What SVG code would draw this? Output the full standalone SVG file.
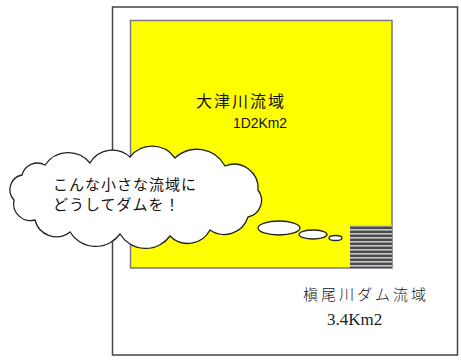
<svg xmlns="http://www.w3.org/2000/svg" width="461" height="360" viewBox="0 0 461 360">
<style>
.jp{font-family:"Noto Sans CJK JP","Noto Sans",sans-serif;fill:#111}
.outline{fill:none;stroke:#444;stroke-width:1.5}
.bub{fill:#fff;stroke:#222;stroke-width:1.3}
</style>
<defs>
<pattern id="hatch" patternUnits="userSpaceOnUse" width="4" height="4">
<rect width="4" height="4" fill="#4a4a4a"/>
<rect y="1" width="4" height="1.6" fill="#c8c8c8"/>
</pattern>
</defs>
<rect width="461" height="360" fill="#fff"/>
<g id="outer">
<rect x="112.5" y="7" width="345" height="348" class="outline"/>
</g>
<g id="otsu">
<rect x="130.5" y="20.5" width="261.5" height="247.5" fill="#ffff00" stroke="#777788" stroke-width="1.5"/>
<text class="jp" x="196" y="107" font-size="16" letter-spacing="2">大津川流域</text>
<text x="233" y="128" font-family="Liberation Sans Narrow,Liberation Sans,sans-serif" font-size="14" fill="#111" textLength="54" lengthAdjust="spacingAndGlyphs">1D2Km2</text>
</g>
<g id="dam">
<rect x="350" y="225" width="42" height="43" fill="url(#hatch)"/>
</g>
<g id="cloud">
<path class="bub" d="M22,175 A16,16 0 0 1 45,165 A28,28 0 0 1 90,163 A26,26 0 0 1 130,157 A28,28 0 0 1 175,158 A32,32 0 0 1 225,166 A24,24 0 0 1 258,190 A17,17 0 0 1 248,217 A25,25 0 0 1 210,230 A25,25 0 0 1 170,236 A30,30 0 0 1 120,234 A30,30 0 0 1 70,232 A22,22 0 0 1 35,220 A17,17 0 0 1 14,200 A15,15 0 0 1 22,175 Z"/>
<text class="jp" x="53" y="190" font-size="15" letter-spacing="1">こんな小さな流域に</text>
<text class="jp" x="53" y="210" font-size="15" letter-spacing="1">どうしてダムを！</text>
</g>
<g id="bubbles">
<ellipse class="bub" cx="279" cy="228" rx="21" ry="7"/>
<ellipse class="bub" cx="313" cy="234.5" rx="14" ry="4.5"/>
<ellipse class="bub" cx="335.5" cy="238" rx="6.5" ry="2.5"/>
</g>
<g id="makio">
<text class="jp" x="303" y="300" font-size="15" letter-spacing="3" font-weight="300">槇尾川ダム流域</text>
<text x="327" y="325" font-family="Liberation Serif,serif" font-size="17" fill="#222">3.4Km2</text>
</g>
</svg>
